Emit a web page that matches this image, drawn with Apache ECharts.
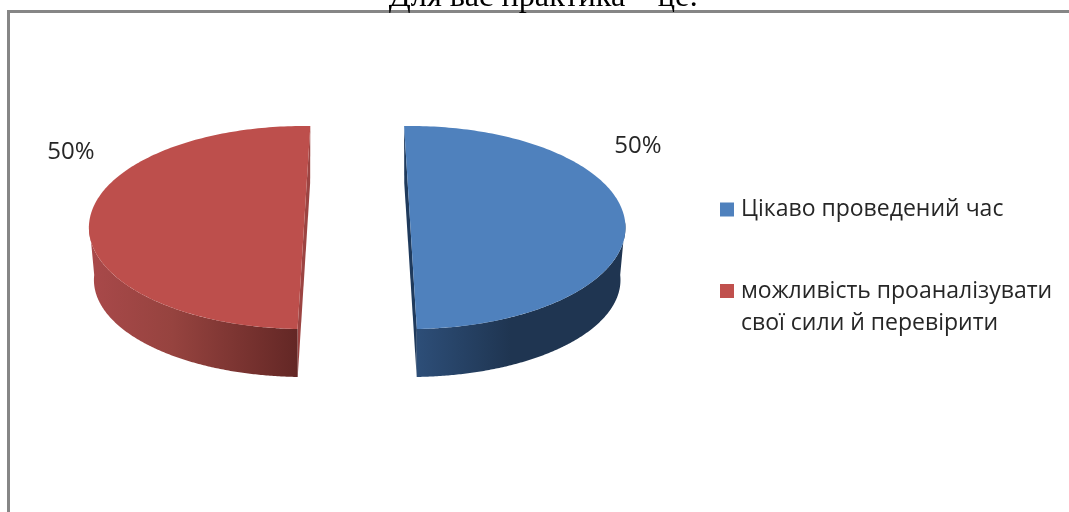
<!DOCTYPE html>
<html>
<head>
<meta charset="utf-8">
<style>html,body{margin:0;padding:0;background:#fff}#c{width:1069px;height:512px}</style>
<script src="https://cdn.jsdelivr.net/npm/echarts@6/dist/echarts.min.js"></script>
</head>
<body>
<div id="c"></div>
<script>
const titleText = 'Для вас практика – це:';
const categories = ['Цікаво проведений час', 'можливість проаналізувати свої сили й перевірити'];
const values = [50, 50];
const legendLines = [['Цікаво проведений час'], ['', 'можливість проаналізувати', 'свої сили й перевірити']];

const topColors = ['#4f81bd', '#c0504d'];
const faceColors = ['#4f81bd', '#bd4f4c'];
const cutColors = ['#1f3a5c', '#9c4442'];
const wallStops = [
  [[0, '#2d4e78'], [0.45, '#1f3551'], [1, '#1f3551']],
  [[0, '#a9494a'], [0.4, '#96433f'], [1, '#632725']]
];
// perspective turns each cut edge slightly the other way, so each slice has its own start
const geo = { cx: 357.2, cy: 227.5, a: 215, b: 101.5, cyB: 280, aB: 210, bB: 97, explode: 53.3, starts: [-91.7, 91.7] };
const labelPos = [[638, 146], [71, 152]];

const total = values.reduce((s, v) => s + v, 0);
function renderSlice(params, api) {
  const i = params.seriesIndex;
  const t0 = geo.starts[i];
  const t1 = t0 + api.value(0) / total * 360;
  const mid = (t0 + t1) / 2 * Math.PI / 180;
  const ox = geo.explode * Math.cos(mid);
  const pt = (t, top) => {
    const r = t * Math.PI / 180;
    return top
      ? [geo.cx + ox + geo.a * Math.cos(r), geo.cy + geo.b * Math.sin(r)]
      : [geo.cx + ox + geo.aB * Math.cos(r), geo.cyB + geo.bB * Math.sin(r)];
  };
  const arc = (from, to, top) => {
    const out = [];
    const n = 180;
    for (let k = 0; k <= n; k++) out.push(pt(from + (to - from) * k / n, top));
    return out;
  };
  // visible wall: the front half of the rim
  const wFrom = i === 0 ? -3 : t0;
  const wTo = i === 0 ? t1 : 183;
  const wall = arc(wFrom, wTo, true).concat(arc(wTo, wFrom, false));
  // the cut face seen along the chord
  const cut = [pt(t0, true), pt(t1, true), pt(t1, false), pt(t0, false)];
  const face = arc(t0, t1, true);
  const stops = wallStops[i].map(s => ({ offset: s[0], color: s[1] }));
  return {
    type: 'group',
    children: [
      { type: 'polygon', shape: { points: cut }, style: { fill: cutColors[i] } },
      { type: 'polygon', shape: { points: wall }, style: { fill: { type: 'linear', x: 0, y: 0, x2: 1, y2: 0, colorStops: stops } } },
      { type: 'polygon', shape: { points: face }, style: { fill: faceColors[i] } },
      {
        type: 'text',
        x: labelPos[i][0], y: labelPos[i][1],
        style: {
          text: Math.round(api.value(0) / total * 100) + '%',
          fill: '#262626', align: 'center', verticalAlign: 'middle',
          font: '24px "Open Sans"'
        }
      }
    ]
  };
}

const chart = echarts.init(document.getElementById('c'), null, { renderer: 'canvas' });
const legendTop = [193.5, 243];
chart.setOption({
  animation: false,
  backgroundColor: '#ffffff',
  color: topColors,
  title: {
    text: titleText, left: 538.5, top: -23, textAlign: 'center',
    textStyle: { fontFamily: '"Liberation Serif"', fontSize: 32.3, fontWeight: 'normal', color: '#000' }
  },
  legend: categories.map((c, i) => ({
    data: [c],
    orient: 'vertical',
    left: 720, top: legendTop[i],
    itemWidth: 14, itemHeight: 14,
    icon: 'rect',
    padding: 0,
    formatter: () => legendLines[i].join('\n'),
    textStyle: {
      fontFamily: '"Open Sans"', fontSize: 23, color: '#262626', lineHeight: 32,
      padding: [0, 0, 0, 2]
    }
  })),
  graphic: [{
    type: 'rect',
    shape: { x: 8.5, y: 11.5, width: 1200, height: 700 },
    style: { fill: null, stroke: '#868686', lineWidth: 3 },
    silent: true
  }],
  series: categories.map((c, i) => ({
    type: 'custom',
    name: c,
    coordinateSystem: 'none',
    renderItem: renderSlice,
    data: [[values[i]]],
    silent: true
  }))
});
</script>
</body>
</html>
